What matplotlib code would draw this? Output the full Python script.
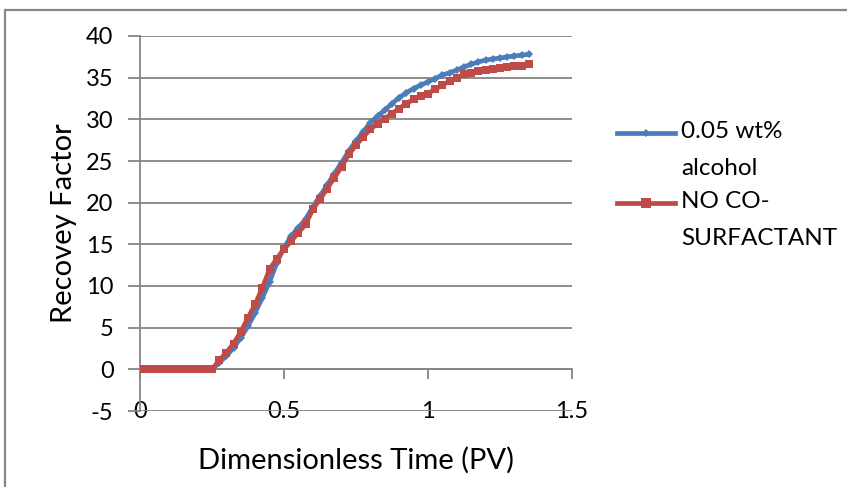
import matplotlib
matplotlib.use("Agg")
import matplotlib.pyplot as plt
from matplotlib.lines import Line2D
from matplotlib.patches import Rectangle

plt.rcParams['font.family'] = ['Lato', 'DejaVu Sans']

# ---- data ----
pv = [0.0, 0.025, 0.05, 0.075, 0.1, 0.125, 0.15, 0.175, 0.2, 0.225, 0.25,
      0.275, 0.3, 0.325, 0.35, 0.375, 0.4, 0.425, 0.45, 0.475, 0.5,
      0.525, 0.55, 0.575, 0.6, 0.625, 0.65, 0.675, 0.7, 0.725, 0.75,
      0.775, 0.8, 0.825, 0.85, 0.875, 0.9, 0.925, 0.95, 0.975, 1.0,
      1.025, 1.05, 1.075, 1.1, 1.125, 1.15, 1.175, 1.2, 1.225, 1.25,
      1.275, 1.3, 1.325, 1.35]
rf_alcohol = [0, 0, 0, 0, 0, 0, 0, 0, 0, 0, 0,
              0.8, 1.6, 2.6, 3.8, 5.2, 6.8, 8.6, 10.5, 12.8, 14.6,
              16.0, 17.0, 18.0, 19.5, 20.8, 22.1, 23.5, 24.8, 26.2, 27.4,
              28.5, 29.6, 30.4, 31.1, 31.9, 32.6, 33.2, 33.7, 34.1, 34.5,
              34.9, 35.3, 35.6, 35.9, 36.3, 36.6, 36.9, 37.1, 37.25, 37.35,
              37.5, 37.6, 37.7, 37.8]
rf_noco = [0, 0, 0, 0, 0, 0, 0, 0, 0, 0, 0,
           1.1, 2.0, 3.1, 4.5, 6.2, 7.8, 9.8, 12.0, 13.3, 14.4,
           15.4, 16.4, 17.4, 19.2, 20.4, 21.7, 23.0, 24.3, 25.8, 26.9,
           27.9, 28.8, 29.5, 30.1, 30.7, 31.3, 31.9, 32.4, 32.8, 33.1,
           33.6, 34.1, 34.6, 35.0, 35.4, 35.6, 35.8, 35.95, 36.05, 36.15,
           36.25, 36.35, 36.45, 36.6]
series_labels = ["0.05 wt%\nalcohol", "NO CO-\nSURFACTANT"]
x_ticks = [0, 0.5, 1, 1.5]
x_ticklabels = ["0", "0.5", "1", "1.5"]
y_ticks = [-5, 0, 5, 10, 15, 20, 25, 30, 35, 40]

BLUE = "#4a7ebb"
RED = "#be4b48"
GRID = "#868686"
FS = 17
FS_LAB = 21
FS_LEG = 17.5

W, H = 847, 487
fig = plt.figure(figsize=(W / 100, H / 100), dpi=100)
ax = fig.add_axes([140 / W, 1 - 411 / H, (572 - 140) / W, (411 - 36) / H])

# outer chart border
fig.add_artist(Rectangle((5 / W, -0.05), 1.2, 1 - 10 / H + 0.05,
                         transform=fig.transFigure, fill=False,
                         edgecolor=GRID, lw=1.6, clip_on=False))

ax.plot(pv, rf_alcohol, color=BLUE, lw=3.4, marker='D', ms=4.5,
        markeredgewidth=0, zorder=3)
ax.plot(pv, rf_noco, color=RED, lw=3.4, marker='s', ms=6.0,
        markeredgewidth=0, zorder=4)

ax.set_xlim(0, 1.5)
ax.set_ylim(-5, 40)
ax.set_yticks(y_ticks)
ax.set_yticklabels([str(v) for v in y_ticks])
ax.set_xticks(x_ticks)
ax.set_xticklabels(x_ticklabels)

for s in ['top', 'right']:
    ax.spines[s].set_visible(False)
ax.spines['bottom'].set_position(('data', 0))
ax.spines['bottom'].set_color(GRID)
ax.spines['left'].set_color(GRID)
ax.spines['bottom'].set_linewidth(1.3)
ax.spines['left'].set_linewidth(1.3)

ax.yaxis.grid(True, color=GRID, lw=1.3)
ax.set_axisbelow(True)
ax.tick_params(axis='y', direction='out', length=9, width=1.3, color=GRID,
               labelsize=FS, pad=10)
ax.tick_params(axis='x', direction='out', length=7.5, width=1.3, color=GRID,
               labelsize=FS, pad=15)

ax.set_ylabel("Recovey Factor", fontsize=FS_LAB)
ax.yaxis.label.set(rotation_mode='default', ha='center', va='center')
ax.set_xlabel("Dimensionless Time (PV)", fontsize=FS_LAB)
ax.yaxis.set_label_coords(-(140 - 64) / 432, 0.5)
ax.xaxis.set_label_coords(0.5, -(447 - 411) / 375)

# legend (manual, Excel style)
leg_y = [133, 203]
colors = [BLUE, RED]
markers = ['D', 's']
msz = [4.5, 6.5]
for lab, yy, c, m, ms in zip(series_labels, leg_y, colors, markers, msz):
    fy = 1 - yy / H
    fig.add_artist(Line2D([617 / W, 675 / W], [fy, fy], transform=fig.transFigure,
                          color=c, lw=3.4))
    fig.add_artist(Line2D([646 / W], [fy], transform=fig.transFigure,
                          color=c, marker=m, ms=ms, markeredgewidth=0))
    fig.text(681 / W, 1 - (yy - 12) / H, lab, fontsize=FS_LEG, va='top', ha='left',
             linespacing=1.95, transform=fig.transFigure)

fig.savefig("out.png", dpi=100)
